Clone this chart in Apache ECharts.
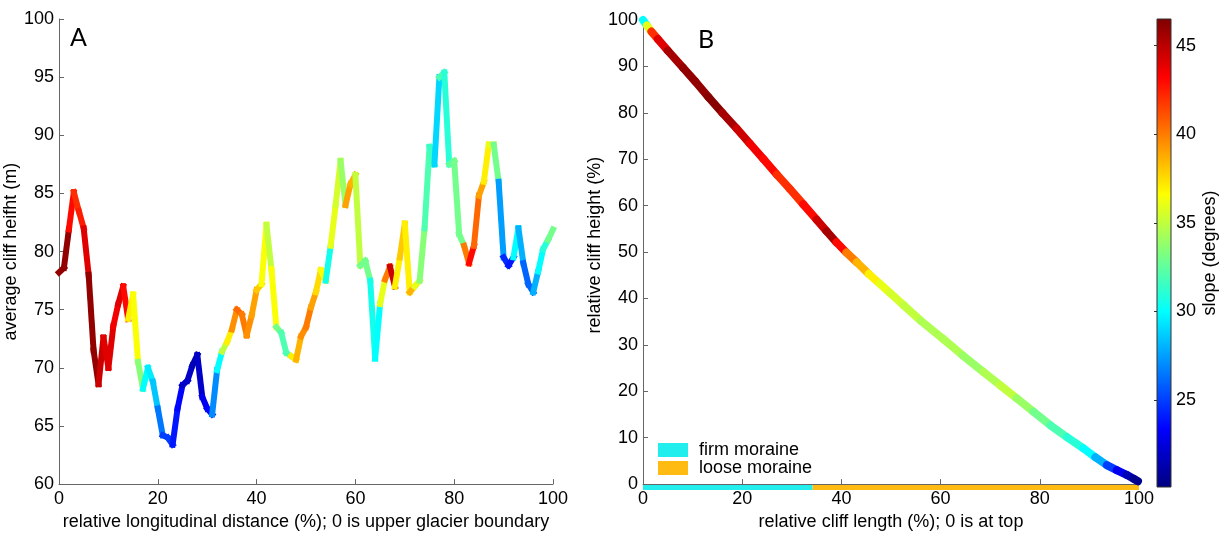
<!DOCTYPE html>
<html>
<head>
<meta charset="utf-8">
<script src="https://cdn.jsdelivr.net/npm/echarts@6/dist/echarts.min.js"></script>
<style>
html,body{margin:0;padding:0;background:#fff;}
#chart{width:1223px;height:536px;}
</style>
</head>
<body>
<div id="chart"></div>
<script>
// ---------- Panel A: average cliff height along glacier ----------
var distA = [0,1,2,3,4,5,6,7,8,9,10,11,12,13,14,15,16,17,18,19,20,21,22,23,24,25,26,27,28,29,30,31,32,33,34,35,36,37,38,39,40,41,42,43,44,45,46,47,48,49,50,51,52,53,54,55,56,57,58,59,60,61,62,63,64,65,66,67,68,69,70,71,72,73,74,75,76,77,78,79,80,81,82,83,84,85,86,87,88,89,90,91,92,93,94,95,96,97,98,99,100];
var heightA = [78.2,78.6,81.9,85.1,83.5,82.0,78.0,71.5,68.6,72.6,70.0,73.6,75.5,77.0,74.2,76.3,70.5,68.2,70.0,68.8,
  66.5,64.2,64.0,63.4,66.5,68.5,68.9,70.2,71.1,67.5,66.5,66.0,69.8,71.4,72.2,73.3,75.0,74.6,72.8,74.5,
  76.7,77.2,82.3,78.5,73.5,73.0,71.3,71.0,70.7,72.7,73.5,75.2,76.5,78.4,77.5,80.5,84.0,87.8,84.0,85.8,
  86.6,78.8,79.2,77.5,70.8,75.5,77.6,78.7,77.0,79.5,82.4,76.5,77.0,77.5,82.0,89.0,87.5,95.0,95.4,87.5,
  87.8,81.5,80.5,79.0,80.5,84.8,86.0,89.2,89.2,86.0,79.5,78.8,79.5,82.0,79.0,77.2,76.5,78.3,80.2,81.0,81.9];
var slopeA = [46,46,43,42,42.5,44,46,46,44.5,44,44,43.5,44,43,37,36.5,33.5,30,29.5,28.5,
  26.5,25,25,24,23.5,22,22,21.5,22,23,23.5,27,30,35,37,39.5,40.5,40,39.5,39,
  38,36.5,35,36.5,33,32,32,37,38.5,39.5,40,39,37.5,36.5,30.5,36,35.5,34,39,38.5,
  35,33,33,30.5,30,36,40,44.5,37,38,37,38.5,36,33.5,32,31.5,29,32,31,32.5,
  33,33,40,43,40.5,39,37,36,33,27.5,24.5,24,30,28,26,26,28,30,31,33,33];

// ---------- Panel B: cliff profile ----------
var lengthB = [0,0.8,1.7,3,5,8.1,10.5,13.2,16,18.9,21.5,24.3,27,29.6,32.3,35,37,39,41,43.1,45.5,47.7,49.8,52.5,56,60.5,64.5,68.6,72,75.3,78.7,82.1,85.5,88.8,91.2,93.5,95.5,97.5,99,99.8];
var heightB = [100,98.8,97.5,95.9,93.4,89.7,86.8,83.4,80.0,76.6,73.4,70.0,66.7,63.6,60.3,57.0,54.5,52.1,49.9,47.8,45.3,43.2,41.2,38.6,35.2,31.3,27.7,24.2,21.3,18.5,15.6,12.7,10.1,7.7,5.8,4.1,3.0,2.0,1.1,0.6];
var slopeB = [30,36,42,44,45.5,46,46,46.3,45.5,44.5,43.5,43,42,42,43,44.5,45.5,43,40,38.5,37,36,35.5,35,34.5,34.5,34,34.5,35,34,33,32,31,30,28,25,23,21.5,20.5,20.3];

// moraine type along the cliff bottom
var moraineNames = ['firm moraine','loose moraine'];
var moraineStart = [0, 34.2];
var moraineEnd = [34.2, 100];
var moraineColors = ['#22EEEE','#FFBB11'];

// colour scale
var slopeMin = 20.1, slopeMax = 46.5;
var slopeTicks = [25,30,35,40,45];
var jet = ['#00007F','#0000FF','#007FFF','#00FFFF','#7FFF7F','#FFFF00','#FF7F00','#FF0000','#7F0000'];

function segs(xs, ys, cs){
  var out = [];
  for (var i = 0; i < xs.length - 1; i++) out.push([xs[i], ys[i], xs[i+1], ys[i+1], cs[i]]);
  return out;
}

var FONT = 'Liberation Sans';
var axisCol = '#666';
function xAx(gi, name){
  return {type:'value', gridIndex:gi, min:0, max:100, interval:20, name:name, nameLocation:'middle', nameGap:25,
    nameTextStyle:{fontFamily:FONT, fontSize:18, color:'#000'},
    axisLine:{show:true, lineStyle:{color:axisCol, width:1}}, axisTick:{show:true, inside:true, length:5, lineStyle:{color:axisCol}},
    axisLabel:{fontFamily:FONT, fontSize:18, color:'#000', margin:6}, splitLine:{show:false}};
}
function yAx(gi, name, min, max, iv, pad){
  return {type:'value', gridIndex:gi, min:min, max:max, interval:iv, name:name, nameLocation:'middle', nameGap:32,
    nameTextStyle:{fontFamily:FONT, fontSize:18, color:'#000', padding:pad},
    axisLine:{show:true, lineStyle:{color:axisCol, width:1}}, axisTick:{show:true, inside:true, length:5, lineStyle:{color:axisCol}},
    axisLabel:{fontFamily:FONT, fontSize:18, color:'#000', margin:5}, splitLine:{show:false}};
}

function lineItem(width, cap){
  return function(params, api){
    var p0 = api.coord([api.value(0), api.value(1)]);
    var p1 = api.coord([api.value(2), api.value(3)]);
    return {type:'line', shape:{x1:p0[0], y1:p0[1], x2:p1[0], y2:p1[1]},
      style:{stroke:api.visual('color'), lineWidth:width, lineCap:cap}};
  };
}

var series = [
  {type:'custom', xAxisIndex:0, yAxisIndex:0, data:segs(distA, heightA, slopeA),
   encode:{x:[0,2], y:[1,3]}, renderItem:lineItem(6,'square'), silent:true},
  {type:'custom', xAxisIndex:1, yAxisIndex:1, data:segs(lengthB, heightB, slopeB),
   encode:{x:[0,2], y:[1,3]}, renderItem:lineItem(8,'round'), silent:true}
];
moraineNames.forEach(function(n, i){
  series.push({type:'custom', name:n, xAxisIndex:1, yAxisIndex:1, itemStyle:{color:moraineColors[i]},
    data:[[moraineStart[i], moraineEnd[i], 0]], encode:{x:[0,1], y:2}, silent:true, z:1,
    renderItem:function(params, api){
      var p0 = api.coord([api.value(0), api.value(2)]);
      var p1 = api.coord([api.value(1), api.value(2)]);
      return {type:'rect', shape:{x:p0[0], y:p0[1]+1, width:p1[0]-p0[0], height:5},
        style:{fill:moraineColors[i]}};
    }});
});
series.push({type:'custom', xAxisIndex:2, yAxisIndex:2, data:[[0, slopeMin, 1, slopeMax]],
  encode:{x:[0,2], y:[1,3]}, silent:true,
  renderItem:function(params, api){
    var p0 = api.coord([api.value(0), api.value(1)]);
    var p1 = api.coord([api.value(2), api.value(3)]);
    var stops = jet.map(function(c, k){ return {offset:k/(jet.length-1), color:c}; });
    return {type:'rect', shape:{x:p0[0], y:p1[1], width:p1[0]-p0[0], height:p0[1]-p1[1]},
      style:{fill:new echarts.graphic.LinearGradient(0,1,0,0, stops), stroke:'#333', lineWidth:1}};
  }});

var option = {
  backgroundColor:'#fff',
  animation:false,
  grid:[
    {left:59, top:19, width:494, height:467},
    {left:643, top:20, width:496, height:466},
    {left:1157, top:19, width:14, height:468}
  ],
  xAxis:[
    xAx(0, 'relative longitudinal distance (%); 0 is upper glacier boundary'),
    xAx(1, 'relative cliff length (%); 0 is at top'),
    {type:'value', gridIndex:2, min:0, max:1, show:false}
  ],
  yAxis:[
    yAx(0, 'average cliff heifht (m)', 60, 100, 5, 0),
    yAx(1, 'relative cliff height (%)', 0, 100, 10, [0,0,0,14]),
    {type:'value', gridIndex:2, min:slopeMin, max:slopeMax, position:'right', name:'slope (degrees)',
     nameLocation:'middle', nameGap:30, nameTextStyle:{fontFamily:FONT, fontSize:18, color:'#000'},
     axisLine:{show:false}, axisTick:{show:true, inside:true, length:3, customValues:slopeTicks, lineStyle:{color:'#333'}},
     axisLabel:{fontFamily:FONT, fontSize:18, color:'#000', margin:5, customValues:slopeTicks}, splitLine:{show:false}},
    {type:'value', gridIndex:2, min:slopeMin, max:slopeMax, position:'left',
     axisLine:{show:false}, axisTick:{show:true, inside:true, length:3, customValues:slopeTicks, lineStyle:{color:'#333'}},
     axisLabel:{show:false}, splitLine:{show:false}}
  ],
  visualMap:{type:'continuous', show:false, min:slopeMin, max:slopeMax, dimension:4, seriesIndex:[0,1],
    inRange:{color:jet}},
  legend:{orient:'vertical', left:658, top:441, itemWidth:30, itemHeight:14, itemGap:0, padding:0,
    icon:'rect', data:moraineNames, selectedMode:false,
    textStyle:{fontFamily:FONT, fontSize:18, color:'#000', padding:[0,0,0,6]}},
  graphic:[
    {type:'text', left:70, top:25, style:{text:'A', font:'25px Lato', fill:'#000'}},
    {type:'text', left:698, top:27, style:{text:'B', font:'25px Lato', fill:'#000'}}
  ],
  series:series
};
var chart = echarts.init(document.getElementById('chart'), null, {renderer:'canvas'});
chart.setOption(option);
</script>
</body>
</html>
